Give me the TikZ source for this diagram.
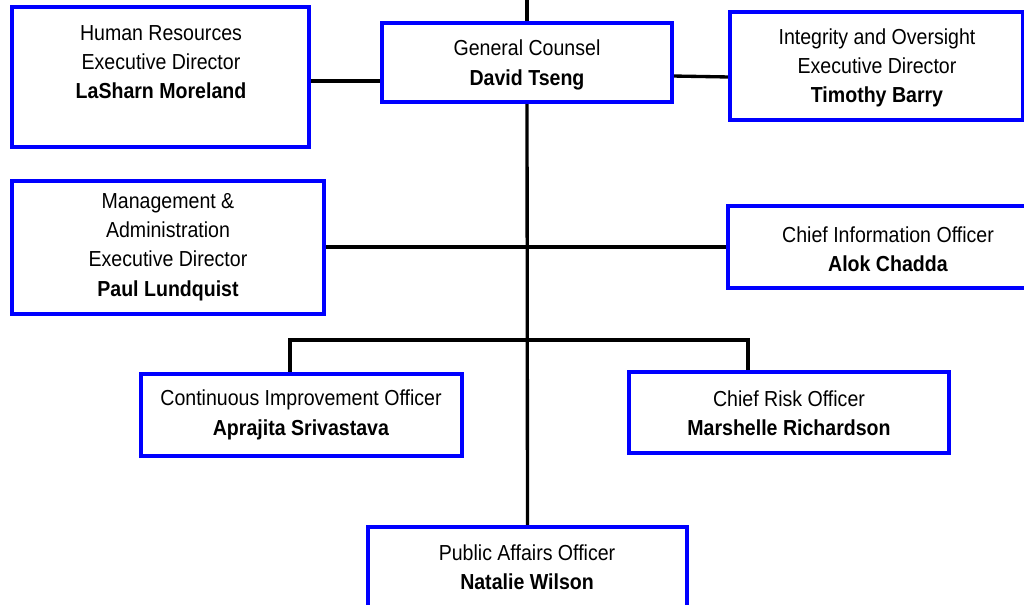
\documentclass[tikz,border=0pt]{standalone}
\usepackage{fontspec}
\setmainfont[FakeStretch=0.9]{Liberation Sans}
\usetikzlibrary{fit}
\tikzset{
  box/.style={draw={rgb,255:red,0;green,0;blue,255}, line width=2pt, inner sep=0pt, fill=white},
  txt/.style={align=center, inner sep=0pt, font=\fontsize{16.3}{22}\selectfont},
  conn/.style={draw=black, line width=2.5pt},
}
\begin{document}
\begin{tikzpicture}[x=0.75pt, y=-0.75pt]
\useasboundingbox (0,0) rectangle (1024,604);
\clip (0,0) rectangle (1024,604);
\fill[white] (0,0) rectangle (1024,604);
\coordinate (top) at (527,0);
\coordinate (br) at (527,340);
\node[box, fit={(383,24) (671,101)}] (gc) {};
\node[box, fit={(13,8) (308,146)}] (hr) {};
\node[box, fit={(731,13) (1022,119)}] (io) {};
\node[box, fit={(13,182) (323,313)}] (ma) {};
\node[box, fit={(729,207) (1030,287)}] (cio) {};
\node[box, fit={(142,375) (461,455)}] (ci) {};
\node[box, fit={(630,373) (948,452)}] (cro) {};
\node[box, fit={(369,528) (686,640)}] (pa) {};

\draw[conn] (top) -- (gc.north);
\draw[conn] (gc.south) -- (pa.north);
\draw[conn] (hr.east |- 0,81) -- (gc.west |- 0,81);
\draw[conn] (gc.east |- 0,76) -- (io.west |- 0,77);
\draw[conn] (ma.east |- 0,247) -- (cio.west |- 0,247);
\draw[conn] (ci.north -| 290,0) |- (br) -| (cro.north -| 748,0);

\foreach \n in {gc,hr,io,ma,cio,ci,cro,pa}{
  \draw[draw={rgb,255:red,0;green,0;blue,255}, line width=2pt] (\n.north west) rectangle (\n.south east);
}

\node[txt] (hrt) at (161,62) {Human Resources\\Executive Director\\\textbf{LaSharn Moreland}};
\node[txt] (gct) at (527,65) {General Counsel\\\textbf{David Tseng}};
\node[txt] (iot) at (877,68) {Integrity and Oversight\\Executive Director\\\textbf{Timothy Barry}};
\node[txt] (mat) at (168,247) {Management \&\\Administration\\Executive Director\\\textbf{Paul Lundquist}};
\node[txt] (ciot) at (888,249) {Chief Information Officer\\\textbf{Alok Chadda}};
\node[txt] (cit) at (301,415) {Continuous Improvement Officer\\\textbf{Aprajita Srivastava}};
\node[txt] (crot) at (789,413) {Chief Risk Officer\\\textbf{Marshelle Richardson}};
\node[txt] (pat) at (527,567) {Public Affairs Officer\\\textbf{Natalie Wilson}};
\end{tikzpicture}
\end{document}
